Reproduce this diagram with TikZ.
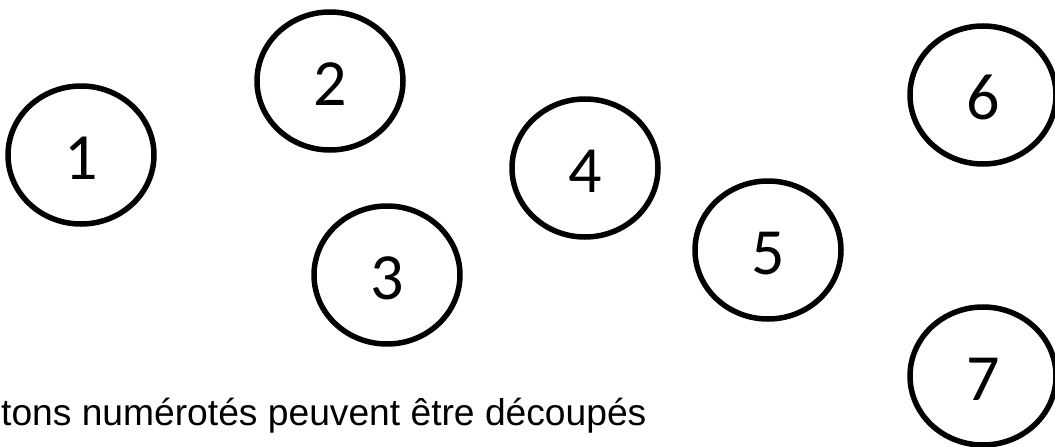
\documentclass[tikz,border=0pt]{standalone}
\usepackage{fontspec}
\newfontfamily\btnfont{Carlito}
\newfontfamily\notefont{Liberation Sans}
\usetikzlibrary{shapes.geometric}
\tikzset{%
  bouton/.style={ellipse,draw=black,line width=5.5pt,minimum width=146pt,
    minimum height=138pt,inner sep=0pt,text height=49pt,
    font=\btnfont\fontsize{66}{66}\selectfont},%
  note/.style={anchor=base west,inner sep=0pt,
    font=\notefont\fontsize{37.2}{40}\selectfont}%
}

\begin{document}
\begin{tikzpicture}[x=1pt,y=-1pt]

%definitions
\useasboundingbox (0,0) rectangle (1055,447);
\node[bouton] (b1) at (81,155) {1};
\node[bouton] (b2) at (330,81) {2};
\node[bouton] (b3) at (387,275) {3};
\node[bouton] (b4) at (585,168) {4};
\node[bouton] (b5) at (768,250) {5};
\node[bouton] (b6) at (983,95) {6};
\node[bouton] (b7) at (983,376) {7};
%labels
\node[note] (txt) at (1,425) {tons numérotés peuvent être découpés};

\end{tikzpicture}
\end{document}
